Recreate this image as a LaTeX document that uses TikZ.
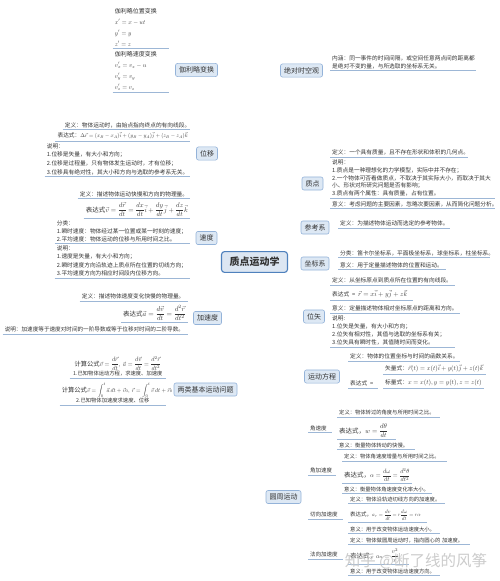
\RequirePackage{fix-cm}
\documentclass[tikz,border=0pt]{standalone}
\usepackage{amsmath}
\usepackage{graphicx}
\usepackage[no-math]{fontspec}
\setmainfont{Noto Sans CJK SC}
\usetikzlibrary{backgrounds}
\definecolor{bfill}{HTML}{DDE8F4}
\definecolor{bbord}{HTML}{94B3D9}
\definecolor{rfill}{HTML}{DCE6F2}
\definecolor{rbord}{HTML}{4F81BD}
\definecolor{ulc}{HTML}{9DB7D6}
\definecolor{cnc}{HTML}{BCCCDF}
\definecolor{txt}{HTML}{333333}
\newcommand{\mth}[2]{\scalebox{#1}{\fontsize{10}{12}\selectfont$\displaystyle #2$}}
\tikzset{
  root/.style={draw=rbord, fill=rfill, line width=1.1pt, rounded corners=3pt, font=\fontsize{10}{12}\selectfont\bfseries, text=txt, inner xsep=8pt, inner ysep=5.5pt},
  branch/.style={draw=bbord, fill=bfill, line width=0.6pt, rounded corners=2pt, font=\fontsize{7}{8}\selectfont, text=txt, inner xsep=3.5pt, inner ysep=3.3pt},
  uline/.style={draw=ulc, line width=0.8pt},
  leaf/.style={font=\fontsize{5.7}{8}\selectfont, text=txt, inner xsep=2pt, inner ysep=1.5pt, align=left,
    append after command={(\tikzlastnode.south west) edge[uline] (\tikzlastnode.south east)}},
  lr/.style={leaf, anchor=south west},
  ll/.style={leaf, anchor=south east},
  cl/.style={lr, font=\fontsize{5.3}{8}\selectfont},
  conn/.style={draw=cnc, line width=0.55pt},
  lconn/.style={draw=cnc, line width=0.55pt, rounded corners=2pt},
}
\begin{document}
\begin{tikzpicture}[x=1pt,y=-1pt]
\useasboundingbox[fill=white] (0,0) rectangle (500,581);

% root and branches
\node[root] (O) at (254.5,262) {质点运动学};
\node[branch] (G) at (196.5,70) {伽利略变换};
\node[branch] (W) at (207,153.5) {位移};
\node[branch] (V) at (206.5,238) {速度};
\node[branch] (A) at (207.5,318) {加速度};
\node[branch] (L) at (205.5,389.5) {两类基本运动问题};
\node[branch] (T) at (301.5,70.5) {绝对时空观};
\node[branch] (Z) at (312.5,183.5) {质点};
\node[branch] (R) at (315,227.5) {参考系};
\node[branch] (K) at (315,263.5) {坐标系};
\node[branch] (P) at (314,316.5) {位矢};
\node[branch] (M) at (322,376.5) {运动方程};
\node[branch] (C) at (283.5,497) {圆周运动};

% Galilean transformation
\node[ll, text width=52pt, font=\fontsize{6}{11}\selectfont] (g1) at (169,48) {伽利略位置变换\\\mth{0.62}{x'=x-ut}\\\mth{0.62}{y'=y}\\\mth{0.62}{z'=z}};
\node[ll, text width=52pt, font=\fontsize{6}{11}\selectfont] (g2) at (169,92.5) {伽利略速度变换\\\mth{0.62}{v_x'=v_x-u}\\\mth{0.62}{v_y'=v_y}\\\mth{0.62}{v_z'=v_z}};

% displacement
\node[ll, text width=123pt] (w1) at (190,129.5) {定义：物体运动时，由始点指向终点的有向线段。};
\node[ll] (w2) at (190,141) {表达式：\mth{0.55}{\Delta\vec r=(x_B-x_A)\vec i+(y_B-y_A)\vec j+(z_B-z_A)\vec k}};
\node[ll, text width=141pt, font=\fontsize{5.7}{8.6}\selectfont] (w3) at (190,176.5) {说明：\\1.位移是矢量，有大小和方向；\\2.位移是过程量，只有物体发生运动时，才有位移；\\3.位移具有绝对性，其大小和方向与选取的参考系无关。};

% velocity
\node[ll, text width=108pt] (v1) at (190,198.5) {定义：描述物体运动快慢和方向的物理量。};
\node[ll, font=\fontsize{6.5}{8}\selectfont] (v2) at (190,218.5) {表达式\mth{0.68}{\vec v=\frac{d\vec r}{dt}=\frac{dx}{dt}\vec i+\frac{dy}{dt}\vec j+\frac{dz}{dt}\vec k}};
\node[ll, text width=131pt] (v3) at (190,243.5) {分类：\\1.瞬时速度：物体经过某一位置或某一时刻的速度；\\2.平均速度：物体运动的位移与所用时间之比。};
\node[ll, text width=131pt, font=\fontsize{5.7}{8.6}\selectfont] (v4) at (190,278) {说明：\\1.速度是矢量，有大小和方向；\\2.瞬时速度方向沿轨迹上质点所在位置的切线方向；\\3.平均速度方向为相应时间段内位移方向。};

% acceleration
\node[ll, text width=104pt] (a1) at (188,301) {定义：描述物体速度变化快慢的物理量。};
\node[ll, font=\fontsize{6.5}{8}\selectfont] (a2) at (188,322.5) {表达式\mth{0.7}{\vec a=\frac{d\vec v}{dt}=\frac{d^2\vec r}{dt^2}}};
\node[ll, text width=181pt, font=\fontsize{5.6}{8}\selectfont] (a3) at (188,334) {说明：加速度等于速度对时间的一阶导数或等于位移对时间的二阶导数。};

% two classes of problems
\node[ll, text width=92pt, align=center, font=\fontsize{5.3}{8}\selectfont] (l1) at (166,378) {{\fontsize{6.3}{8}\selectfont 计算公式\mth{0.62}{\vec v=\frac{d\vec r}{dt},\ \vec a=\frac{d\vec v}{dt}=\frac{d^2\vec r}{dt^2}}}\\1.已知物体运动方程，求速度、加速度};
\node[ll, text width=102pt, align=center, font=\fontsize{5.3}{8}\selectfont] (l2) at (166,405) {{\fontsize{6.3}{8}\selectfont 计算公式\mth{0.58}{\vec v=\int_0^t\vec a\,dt+\vec v_0,\ \vec r=\int_0^t\vec v\,dt+\vec r_0}}\\2.已知物体加速度求速度、位移};

% absolute space-time
\node[lr, text width=142pt] (t1) at (330,70.5) {内涵：同一事件的时间间隔，或空间任意两点间的距离都\\是绝对不变的量，与所选取的坐标系无关。};

% particle
\node[lr, text width=134pt] (z1) at (330,157) {定义：一个具有质量，且不存在形状和体积的几何点。};
\node[lr, text width=161pt, font=\fontsize{5.7}{7.7}\selectfont] (z2) at (330,198) {说明：\\1.质点是一种理想化的力学模型，实际中并不存在；\\2.一个物体可否看做质点，不取决于其实际大小，而取决于其大\\小、形状对所研究问题是否有影响；\\3.质点有两个属性：具有质量，占有位置。};
\node[lr, text width=161pt] (z3) at (330,208.5) {意义：考虑问题的主要因素，忽略次要因素，从而简化问题分析。};

% reference frame
\node[lr, text width=108pt] (r1) at (338,228) {定义：为描述物体运动而选定的参考物体。};

% coordinate system
\node[lr, text width=148pt] (k1) at (338,257.5) {分类：笛卡尔坐标系，平面极坐标系，球坐标系，柱坐标系。};
\node[lr, text width=104pt] (k2) at (338,269.5) {意义：用于定量描述物体的位置和运动。};

% position vector
\node[lr, text width=121pt] (p1) at (330,285) {定义：从坐标原点到质点所在位置的有向线段。};
\node[lr] (p2) at (330,300) {表达式\enspace=\enspace\mth{0.68}{\vec r=x\vec i+y\vec j+z\vec k}\hspace{3pt}};
\node[lr, text width=126pt] (p3) at (330,313) {意义：定量描述物体相对坐标原点的距离和方向。};
\node[lr, text width=121pt] (p4) at (330,347) {说明:\\1.位矢是矢量，有大小和方向；\\2.位矢有相对性，其值与选取的坐标系有关；\\3.位矢具有瞬时性，其值随时间而变化。};

% equation of motion
\node[lr, text width=108pt] (m1) at (348,361) {定义：物体的位置坐标与时间的函数关系。};
\node[lr, text width=26pt] (m2) at (348,388) {表达式\enspace=};
\node[lr] (m2a) at (383,374) {矢量式：\mth{0.64}{\vec r(t)=x(t)\vec i+y(t)\vec j+z(t)\vec k}};
\node[lr] (m2b) at (383,388) {标量式：\mth{0.64}{x=x(t),y=y(t),z=z(t)}};

% circular motion
\node[lr, text width=20pt, font=\fontsize{5.5}{7}\selectfont] (c1) at (308,432.5) {角速度};
\node[lr, text width=24pt, font=\fontsize{5.5}{7}\selectfont] (c2) at (308,475) {角加速度};
\node[lr, text width=31pt, font=\fontsize{5.5}{7}\selectfont] (c3) at (308,519) {切向加速度};
\node[lr, text width=31pt, font=\fontsize{5.5}{7}\selectfont] (c4) at (308,559) {法向加速度};

\node[cl, text width=99pt] (c1a) at (337,417) {定义：物体转过的角度与所用时间之比。};
\node[cl, font=\fontsize{6.5}{8}\selectfont] (c1b) at (337,439.5) {表达式，\mth{0.68}{w=\frac{d\theta}{dt}}\hspace{6pt}};
\node[cl, text width=74pt] (c1c) at (337,449.5) {意义：衡量物体转动的快慢。};

\node[cl, text width=101pt] (c2a) at (342,461) {定义：物体角速度增量与所用时间之比。};
\node[cl, font=\fontsize{6.5}{8}\selectfont] (c2b) at (342,483.5) {表达式，\mth{0.62}{\alpha=\frac{d\omega}{dt}=\frac{d^2\theta}{dt^2}}};
\node[cl, text width=86pt] (c2c) at (342,493.5) {意义：衡量物体角速度变化率大小。};

\node[cl, text width=93pt] (c3a) at (348,503.5) {定义：物体沿轨迹切线方向的加速度。};
\node[cl, font=\fontsize{5.5}{8}\selectfont] (c3b) at (348,522) {表达式，\mth{0.52}{a_\tau=\frac{dv}{dt}=r\frac{d\omega}{dt}=r\alpha}\hspace{4pt}};
\node[cl, text width=88pt] (c3c) at (348,533.5) {意义：用于改变物体运动速度大小。};

\node[cl, text width=118pt] (c4a) at (348,544.5) {定义：物体做圆周运动时，指向圆心的 加速度。};
\node[cl, font=\fontsize{6.5}{8}\selectfont] (c4b) at (348,564) {表达式，\mth{0.62}{a_n=\frac{v^2}{r}}\hspace{8pt}};
\node[cl, text width=88pt] (c4c) at (348,575.5) {意义：用于改变物体运动速度方向。};

% watermark
\node[font=\fontsize{15.5}{16}\selectfont, text=black!22, opacity=0.9] (wm) at (416,561) {知乎 @断了线的风筝};

\begin{scope}[on background layer]
% root connectors
\draw[conn] (O.center) .. controls (250,160) and (232,70) .. (G.east);
\draw[conn] (O.center) .. controls (250,200) and (235,153.5) .. (W.east);
\draw[conn] (O.center) .. controls (245,250) and (232,238) .. (V.east);
\draw[conn] (O.center) .. controls (248,290) and (235,318) .. (A.east);
\draw[conn] (O.center) .. controls (252,340) and (246,389.5) .. (L.east);
\draw[conn] (O.center) .. controls (256,420) and (256,497) .. (C.west);
\draw[conn] (O.center) .. controls (258,160) and (268,72) .. (T.west);
\draw[conn] (O.center) .. controls (262,210) and (285,183.5) .. (Z.west);
\draw[conn] (O.center) .. controls (275,240) and (286,227.5) .. (R.west);
\draw[conn] (O.center) -- (K.west);
\draw[conn] (O.center) .. controls (270,300) and (286,316.5) .. (P.west);
\draw[conn] (O.center) .. controls (262,330) and (282,376.5) .. (M.west);
% leaf connectors, left
\foreach \n in {g1,g2} \draw[lconn] (G.west) -- ++(-3,0) |- (\n.south east);
\foreach \n in {w1,w2,w3} \draw[lconn] (W.west) -- ++(-3,0) |- (\n.south east);
\foreach \n in {v1,v2,v3,v4} \draw[lconn] (V.west) -- ++(-3,0) |- (\n.south east);
\foreach \n in {a1,a2,a3} \draw[lconn] (A.west) -- ++(-2.7,0) |- (\n.south east);
\foreach \n in {l1,l2} \draw[lconn] (L.west) -- ++(-3.5,0) |- (\n.south east);
% leaf connectors, right
\draw[lconn] (T.east) -- (t1.south west);
\foreach \n in {z1,z2,z3} \draw[lconn] (Z.east) -- ++(3.5,0) |- (\n.south west);
\draw[lconn] (R.east) -- ++(4,0) |- (r1.south west);
\foreach \n in {k1,k2} \draw[lconn] (K.east) -- ++(4,0) |- (\n.south west);
\foreach \n in {p1,p2,p3,p4} \draw[lconn] (P.east) -- ++(2.7,0) |- (\n.south west);
\foreach \n in {m1,m2} \draw[lconn] (M.east) -- ++(4,0) |- (\n.south west);
\foreach \n in {m2a,m2b} \draw[lconn] (m2.south east) -- ++(2.5,0) |- (\n.south west);
\foreach \n in {c1,c2,c3,c4} \draw[lconn] (C.east) -- ++(3.5,0) |- (\n.south west);
\foreach \n in {c1a,c1b,c1c} \draw[lconn] (c1.south east) -- ++(2.5,0) |- (\n.south west);
\foreach \n in {c2a,c2b,c2c} \draw[lconn] (c2.south east) -- ++(3,0) |- (\n.south west);
\foreach \n in {c3a,c3b,c3c} \draw[lconn] (c3.south east) -- ++(2.5,0) |- (\n.south west);
\foreach \n in {c4a,c4b,c4c} \draw[lconn] (c4.south east) -- ++(2.5,0) |- (\n.south west);
\end{scope}
\end{tikzpicture}
\end{document}
